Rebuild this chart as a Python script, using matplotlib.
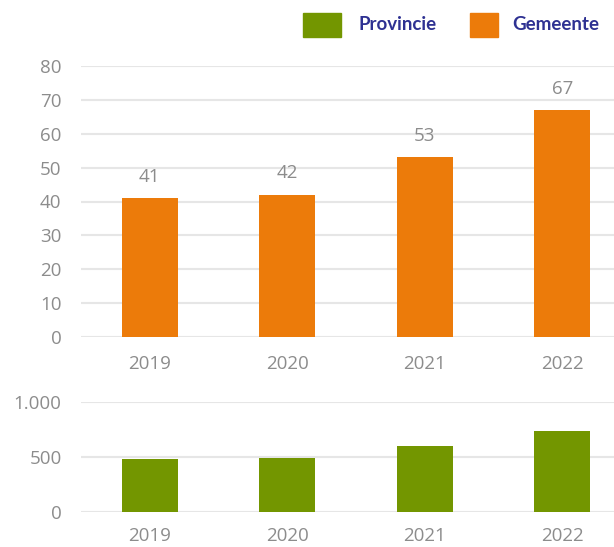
import matplotlib.pyplot as plt
from matplotlib.patches import Rectangle

years = ['2019', '2020', '2021', '2022']
gemeente = [41, 42, 53, 67]
provincie = [485, 490, 600, 732]

ORANGE = '#ec7b0a'
GREEN = '#739600'
GRAY = '#8c8c8c'
GRID = '#e6e6e6'
NAVY = '#2e3192'

W, H = 614, 547
plt.rcParams['font.family'] = ['Open Sans', 'DejaVu Sans']
fig = plt.figure(figsize=(W / 100, H / 100), dpi=100)


def px_axes(left, top, right, bottom):
    return fig.add_axes([left / W, (H - bottom) / H, (right - left) / W, (bottom - top) / H])


def style(ax, ymax, step, fmt, pad):
    x = range(len(years))
    ax.set_xlim(-0.5, 3.376)
    ax.set_ylim(0, ymax)
    ax.set_yticks(range(0, ymax + 1, step))
    ax.set_yticklabels([fmt(v) for v in range(0, ymax + 1, step)])
    ax.set_xticks(list(x))
    ax.set_xticklabels(years)
    ax.grid(axis='y', color=GRID, linewidth=1.5)
    ax.set_axisbelow(True)
    for s in ax.spines.values():
        s.set_visible(False)
    ax.tick_params(axis='both', length=0, colors=GRAY, labelsize=13.5)
    ax.tick_params(axis='x', pad=pad)
    ax.tick_params(axis='y', pad=14)


# top panel: Gemeente
ax1 = px_axes(81, 66, 614, 337)
style(ax1, 80, 10, str, 13)
bars = ax1.bar(range(len(years)), gemeente, width=0.41, color=ORANGE)
for b, v in zip(bars, gemeente):
    ax1.annotate(str(v), (b.get_x() + b.get_width() / 2, v), xytext=(0, 9),
                 textcoords='offset points', ha='center', va='bottom',
                 color=GRAY, fontsize=13.5)

# bottom panel: Provincie
ax2 = px_axes(81, 402, 614, 512)
style(ax2, 1000, 500, lambda v: f'{v:,}'.replace(',', '.'), 11)
ax2.bar(range(len(years)), provincie, width=0.41, color=GREEN)

# legend
fig.patches.append(Rectangle((303 / W, (H - 37) / H), 38 / W, 24 / H,
                             transform=fig.transFigure, color=GREEN))
fig.text(358 / W, (H - 25) / H, 'Provincie', color=NAVY, fontsize=13.5,
         fontweight='bold', va='center', family=['Lato', 'DejaVu Sans'])
fig.patches.append(Rectangle((470 / W, (H - 37) / H), 28 / W, 24 / H,
                             transform=fig.transFigure, color=ORANGE))
fig.text(512 / W, (H - 25) / H, 'Gemeente', color=NAVY, fontsize=13.5,
         fontweight='bold', va='center', family=['Lato', 'DejaVu Sans'])

fig.savefig('out.png', dpi=100)
